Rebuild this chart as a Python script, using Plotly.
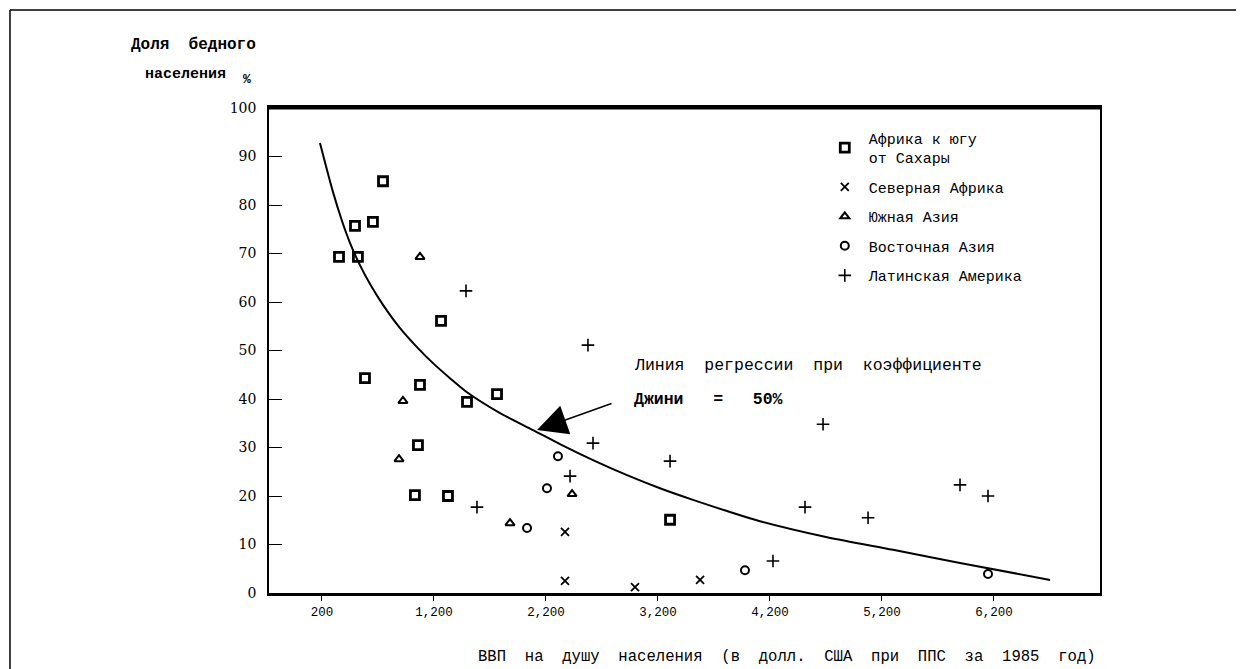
import plotly.graph_objects as go

# ---- data ----
africa_x = [745, 495, 655, 352, 521, 1263, 584, 1075, 1495, 1763, 1057, 1030, 1325, 3308]
africa_y = [84.9, 75.7, 76.5, 69.3, 69.3, 56.1, 44.3, 42.9, 39.4, 41.0, 30.5, 20.2, 20.0, 15.1]

nafrica_x = [2370, 2370, 2995, 3576]
nafrica_y = [12.6, 2.5, 1.2, 2.7]

sasia_x = [1075, 923, 888, 1879, 2433]
sasia_y = [69.3, 39.6, 27.6, 14.4, 20.4]

easia_x = [2307, 2209, 2031, 3977, 6147]
easia_y = [28.2, 21.6, 13.4, 4.7, 3.9]

latam_x = [1486, 2575, 2620, 3308, 2415, 1584, 4674, 4513, 5076, 4227, 5897, 6147]
latam_y = [62.3, 51.1, 30.9, 27.2, 24.1, 17.7, 34.8, 17.7, 15.5, 6.6, 22.3, 20.0]

curve_x = [182, 236, 298, 379, 450, 539, 629, 745, 897, 1048, 1191, 1343, 1495, 1790,
           2084, 2325, 2620, 2924, 3218, 3513, 3817, 4111, 4710, 5299, 5897, 6701]
curve_y = [92.8, 88.0, 82.7, 76.7, 72.2, 67.6, 63.7, 59.4, 54.6, 50.7, 47.4, 44.3, 41.4, 37.1,
           33.6, 30.7, 27.4, 24.3, 21.6, 19.2, 16.9, 14.8, 11.5, 8.9, 6.2, 2.7]

x_tickvals = [200, 1200, 2200, 3200, 4200, 5200, 6200]
x_ticktext = ["200", "1,200", "2,200", "3,200", "4,200", "5,200", "6,200"]
y_tickvals = [0, 10, 20, 30, 40, 50, 60, 70, 80, 90, 100]

arrow_head = (2120, 33.6)

NB = "\u00a0"
def wide(s, n=2):
    return s.replace(" ", NB * n)

MONO = "Liberation Mono"
SERIF = "DejaVu Serif"

fig = go.Figure()

fig.add_trace(go.Scatter(x=curve_x, y=curve_y, mode="lines",
                         line=dict(color="black", width=2, shape="spline", smoothing=0.8),
                         showlegend=False, hoverinfo="skip"))

series = [
    ("Африка к югу<br>от Сахары", africa_x, africa_y, "square-open", 9, 2.8),
    ("Северная Африка", nafrica_x, nafrica_y, "x-thin-open", 8, 1.8),
    ("Южная Азия", sasia_x, sasia_y, "triangle-up-open", 8, 2.0),
    ("Восточная Азия", easia_x, easia_y, "circle-open", 8, 2.0),
    ("Латинская Америка", latam_x, latam_y, "cross-thin-open", 9, 1.6),
]
for i, (name, xs, ys, sym, sz, lw) in enumerate(series):
    fig.add_trace(go.Scatter(
        x=xs, y=ys, mode="markers", name=name.replace(" ", NB).replace(NB + "<br>", "<br>"),
        legendgroup=f"g{i}",
        marker=dict(symbol=sym, size=sz, color="black", line=dict(color="black", width=lw)),
    ))

fig.update_layout(
    width=1244, height=669,
    margin=dict(l=261, r=152, t=100, b=84),
    paper_bgcolor="white", plot_bgcolor="white",
    font=dict(family=MONO, size=14, color="black"),
    showlegend=True,
    legend=dict(x=0.664, y=0.972, xanchor="left", yanchor="top", bgcolor="rgba(0,0,0,0)",
                font=dict(family=MONO, size=15, color="black"), tracegroupgap=7, itemwidth=38),
    xaxis=dict(range=[-273, 7147], tickvals=x_tickvals, ticktext=x_ticktext,
               showgrid=False, zeroline=False, showline=True, linecolor="black", linewidth=2.5,
               mirror=True, ticks="outside", ticklen=5, tickcolor="black",
               tickfont=dict(family=MONO, size=12.5, color="black")),
    yaxis=dict(range=[0, 100], tickvals=y_tickvals,
               showgrid=False, zeroline=False, showline=True, linecolor="black", linewidth=1.5,
               mirror=True, ticks="inside", ticklen=13, tickcolor="black", ticklabelstandoff=8,
               tickfont=dict(family=SERIF, size=14, color="black")),
)

# thicker top border of plot
fig.add_shape(type="line", xref="paper", yref="paper", x0=0, x1=1, y0=1, y1=1,
              line=dict(color="black", width=3))

# outer frame (left and top)
fig.add_shape(type="line", xref="paper", yref="paper", x0=-0.3117, x1=-0.3117, y0=1.202, y1=-0.2,
              line=dict(color="black", width=1.5))
fig.add_shape(type="line", xref="paper", yref="paper", x0=-0.3117, x1=1.2, y0=1.202, y1=1.202,
              line=dict(color="black", width=1.5))

# y title
fig.add_annotation(text="<b>" + wide("Доля бедного") + "</b>", xref="paper", yref="paper",
                   x=-0.091, y=1.13, xanchor="center", yanchor="middle", showarrow=False,
                   font=dict(family=MONO, size=16))
fig.add_annotation(text="<b>населения</b>", xref="paper", yref="paper",
                   x=-0.1, y=1.070, xanchor="center", yanchor="middle", showarrow=False,
                   font=dict(family=MONO, size=15))
fig.add_annotation(text="<b>%</b>", xref="paper", yref="paper",
                   x=-0.027, y=1.058, xanchor="center", yanchor="middle", showarrow=False,
                   font=dict(family=MONO, size=13))

# x title
fig.add_annotation(text=wide("ВВП на душу населения (в долл. США при ППС за 1985 год)"),
                   xref="paper", yref="paper", x=0.249, y=-0.132, xanchor="left", yanchor="middle",
                   showarrow=False, font=dict(family=MONO, size=15.6))

# regression label
fig.add_annotation(text=wide("Линия регрессии при коэффициенте"), xref="paper", yref="paper",
                   x=0.4368, y=0.470, xanchor="left", yanchor="middle", showarrow=False,
                   font=dict(family=MONO, size=16.5))
fig.add_annotation(text="<b>" + wide("Джини = 50%", 3) + "</b>", xref="paper", yref="paper",
                   x=0.4368, y=0.398, xanchor="left", yanchor="middle", showarrow=False,
                   font=dict(family=MONO, size=16.5))

# arrow
fig.add_annotation(x=arrow_head[0], y=arrow_head[1], xref="x", yref="y", text="",
                   showarrow=True, arrowhead=2, arrowsize=4, arrowwidth=1.5, arrowcolor="black",
                   ax=76, ay=-27)

fig.write_html("out.html")
